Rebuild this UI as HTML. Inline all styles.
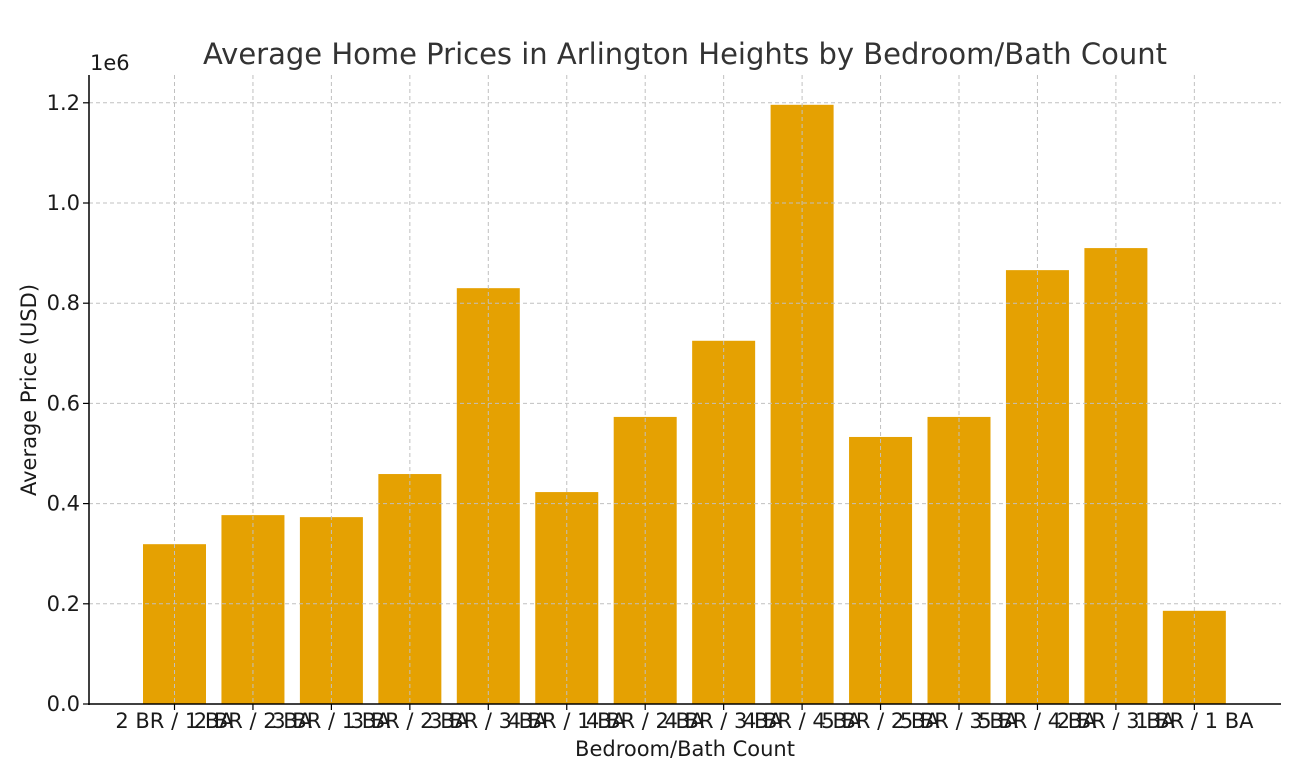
<!DOCTYPE html>
<html><head><meta charset="utf-8"><style>body{margin:0;background:#fff}svg{display:block}text{font-family:"DejaVu Sans","Liberation Sans",sans-serif}</style></head>
<body>
<svg width="1300" height="780" xmlns="http://www.w3.org/2000/svg">
<rect width="1300" height="780" fill="#fff"/>
<text x="685" y="64" font-size="29" fill="#333" text-anchor="middle">Average Home Prices in Arlington Heights by Bedroom/Bath Count</text>
<g id="bars" fill="#E5A102"></g>
<g id="grid" stroke="#c0c0c0" stroke-dasharray="4,3" stroke-width="1"></g>
<g id="lbl" font-size="21" fill="#1a1a1a"></g>
<line x1="89" y1="75" x2="89" y2="705" stroke="#000" stroke-width="1.5"/>
<line x1="88" y1="704" x2="1281" y2="704" stroke="#000" stroke-width="1.5"/>
<text x="90" y="70" font-size="21" fill="#1a1a1a">1e6</text>
<text x="685" y="756" font-size="21" fill="#1a1a1a" text-anchor="middle">Bedroom/Bath Count</text>
<text transform="translate(36,390) rotate(-90)" font-size="21" fill="#1a1a1a" text-anchor="middle">Average Price (USD)</text>
</svg>
<script>
const ns="http://www.w3.org/2000/svg";
function el(p,t,a,txt){const e=document.createElementNS(ns,t);for(const k in a)e.setAttribute(k,a[k]);if(txt)e.textContent=txt;document.getElementById(p).appendChild(e);}
const vals=[0.319,0.377,0.373,0.459,0.830,0.423,0.573,0.725,1.196,0.533,0.573,0.866,0.910,0.186];
const labs=["2 BR / 1 BA","2 BR / 2 BA","3 BR / 1 BA","3 BR / 2 BA","3 BR / 3 BA","4 BR / 1 BA","4 BR / 2 BA","4 BR / 3 BA","4 BR / 4 BA","5 BR / 2 BA","5 BR / 3 BA","5 BR / 4 BA","2 BR / 3 BA","1 BR / 1 BA"];
const pp=501/1.0;
vals.forEach((v,i)=>{const cx=174.5+i*78.45;const top=704-v*pp;
el("bars","rect",{x:cx-31.5,y:top,width:63,height:704-top});
el("grid","line",{x1:cx,y1:75,x2:cx,y2:704});
el("lbl","line",{x1:cx,y1:704,x2:cx,y2:710,stroke:"#000","stroke-width":1.2});
el("lbl","text",{x:cx,y:728,"text-anchor":"middle"},labs[i]);});
for(let k=0;k<=6;k++){const y=704-k*0.2*pp;
if(k>0)el("grid","line",{x1:89,y1:y,x2:1281,y2:y});
el("lbl","line",{x1:83,y1:y,x2:89,y2:y,stroke:"#000","stroke-width":1.2});
el("lbl","text",{x:80,y:y+7,"text-anchor":"end"},(k*0.2).toFixed(1));}
</script>
</body></html>
